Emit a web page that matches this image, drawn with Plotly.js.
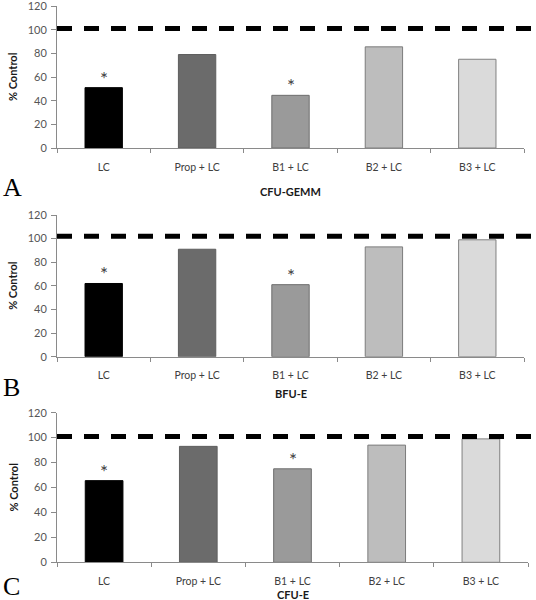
<!DOCTYPE html>
<html>
<head>
<meta charset="utf-8">
<script src="https://cdn.plot.ly/plotly-3.0.1.min.js"></script>
<style>html,body{margin:0;padding:0;background:#fff;}#chart{width:536px;height:600px;}</style>
</head>
<body>
<div id="chart"></div>
<script>
// ---- data ----
const categories = ['LC', 'Prop + LC', 'B1 + LC', 'B2 + LC', 'B3 + LC'];
const cfuGemmValues = [51, 79, 44.5, 85.5, 75];
const bfuEValues = [62, 91, 61, 93, 99];
const cfuEValues = [65.5, 93, 75, 94, 99];
const significant = [true, false, true, false, false];
const controlLevels = [101, 102, 101];
const panelLetters = ['A', 'B', 'C'];
const panelTitles = ['CFU-GEMM', 'BFU-E', 'CFU-E'];
const yTicks = [0, 20, 40, 60, 80, 100, 120];

// ---- styles ----
const fillColors = ['#000000', '#6b6b6b', '#9a9a9a', '#bdbdbd', '#dadada'];
const lineColors = ['#000000', '#5e5e5e', '#6e6e6e', '#7c7c7c', '#808080'];
const axisColor = '#8a8a8a';
const font = 'Lato, "Open Sans", sans-serif';

const H = 600, W = 536;
// pixel geometry of each panel: [top, bottom, left, right]
const geom = [
  [6, 148, 57, 524],
  [215, 356.7, 57, 524],
  [412.7, 562.3, 57, 528]
];
const letterY = [187, 388, 586];
const titleY = [191, 393, 594];

const panels = [cfuGemmValues, bfuEValues, cfuEValues];
const traces = [];
const layout = {
  width: W, height: H,
  margin: {l: 0, r: 0, t: 0, b: 0},
  paper_bgcolor: '#fff', plot_bgcolor: '#fff',
  showlegend: false,
  font: {family: font, color: '#404040'},
  annotations: [],
  shapes: []
};

panels.forEach((vals, i) => {
  const sfx = i === 0 ? '' : String(i + 1);
  const [top, bottom, left, right] = geom[i];
  traces.push({
    type: 'bar',
    x: categories,
    y: vals,
    xaxis: 'x' + sfx,
    yaxis: 'y' + sfx,
    width: 0.4,
    marker: {color: fillColors, line: {color: lineColors, width: 1}},
    hoverinfo: 'skip'
  });
  layout['xaxis' + sfx] = {
    domain: [left / W, right / W],
    anchor: 'y' + sfx,
    type: 'category',
    range: [-0.5, 4.5],
    showline: true, linecolor: axisColor, linewidth: 1,
    ticks: 'outside', tickson: 'boundaries', ticklen: 4, tickcolor: axisColor,
    tickfont: {family: font, size: 10.5, color: '#404040'},
    ticklabelstandoff: 9,
    showgrid: false, zeroline: false, fixedrange: true
  };
  layout['yaxis' + sfx] = {
    domain: [1 - bottom / H, 1 - top / H],
    anchor: 'x' + sfx,
    range: [0, 120],
    tickvals: yTicks,
    showline: true, linecolor: axisColor, linewidth: 1,
    ticks: 'outside', ticklen: 5, tickcolor: axisColor,
    tickfont: {family: font, size: 11, color: '#555555'},
    ticklabelstandoff: 2,
    ticklabeloverflow: 'allow',
    showgrid: false, zeroline: false, fixedrange: true
  };
  // control reference line
  layout.shapes.push({
    type: 'line', xref: 'x' + sfx + ' domain', yref: 'y' + sfx,
    x0: 0, x1: (536 - left) / (right - left) - 0.005,
    y0: controlLevels[i], y1: controlLevels[i],
    line: {color: '#000', width: 5, dash: '15px,12px'}
  });
  // significance stars
  categories.forEach((c, k) => {
    if (significant[k]) {
      layout.annotations.push({
        xref: 'x' + sfx, yref: 'y' + sfx, x: c, y: vals[k],
        text: '*', showarrow: false, yanchor: 'bottom', yshift: -4,
        font: {family: font, size: 19, color: '#404040'}
      });
    }
  });
  // y title
  layout.annotations.push({
    xref: 'paper', yref: 'paper', x: 13 / W, y: 1 - (top + bottom) / 2 / H,
    text: '<b>% Control</b>', textangle: -90, showarrow: false,
    xanchor: 'center', yanchor: 'middle',
    font: {family: font, size: 11, color: '#1a1a1a'}
  });
  // panel title
  layout.annotations.push({
    xref: 'paper', yref: 'paper', x: (left + right) / 2 / W, y: 1 - titleY[i] / H,
    text: '<b>' + panelTitles[i] + '</b>', showarrow: false,
    xanchor: 'center', yanchor: 'middle',
    font: {family: font, size: 11, color: '#1a1a1a'}
  });
  // panel letter
  layout.annotations.push({
    xref: 'paper', yref: 'paper', x: 1 / W, y: 1 - letterY[i] / H,
    text: panelLetters[i], showarrow: false,
    xanchor: 'left', yanchor: 'middle',
    font: {family: '"Liberation Serif", "DejaVu Serif", serif', size: 26, color: '#000'}
  });
});

Plotly.newPlot('chart', traces, layout, {staticPlot: true});
</script>
</body>
</html>
